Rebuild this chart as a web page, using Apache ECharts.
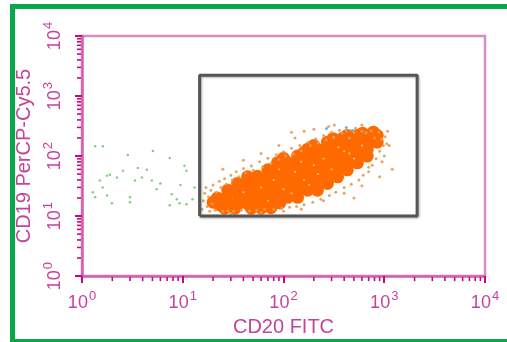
<!DOCTYPE html>
<html><head><meta charset="utf-8">
<script src="https://cdn.jsdelivr.net/npm/echarts@6/dist/echarts.min.js"></script>
<style>html,body{margin:0;padding:0;background:#fff}#c{width:507px;height:342px}</style>
</head><body><div id="c"></div>
<script>
const tickExponents = [0, 1, 2, 3, 4];
const decades = [1, 10, 100, 1000];
const minorMult = [2, 3, 4, 5, 6, 7, 8, 9];
const xTitle = 'CD20 FITC';
const yTitle = 'CD19 PerCP-Cy5.5';

// gate rectangle corners (data units)
const gateCorners = [[14.7, 10], [2120, 10], [2120, 2210], [14.7, 2210], [14.7, 10]];

// dense orange population (core)
const coreCells = [
 [22,20],[23,15.5],[20,17],
 [28,27],[27,20.5],[29,15.7],[26,13.5],
 [35,35],[34,26],[36,20],[35,15.5],[33,13.5],
 [44,45],[43,35],[45,27],[44,20.5],[45,15.7],[48,13.5],
 [55,46],[56,35],[54,27],[55,20],[56,15.5],[60,13.5],
 [70,59],[69,45],[71,35],[70,26.7],[69,20.5],[71,15.7],[75,13.8],
 [87,77],[86,59],[88,45],[87,35],[86,27],[88,20.5],[92,16.5],
 [110,77],[111,59],[109,45],[110,35],[111,27],[110,20.5],[100,92],
 [138,100],[137,77],[139,59],[138,45],[137,35],[139,27],[138,20.5],
 [174,130],[175,100],[173,77],[174,59],[175,45],[173,35],[174,27],[160,115],
 [217,130],[216,100],[218,77],[217,59],[216,45],[218,35],[217,27],[200,150],
 [273,170],[272,130],[274,100],[273,77],[272,59],[274,45],[273,35],
 [343,170],[342,130],[344,100],[343,77],[342,59],[344,45],[310,195],
 [430,221],[431,170],[429,130],[430,100],[431,77],[430,59],[390,200],
 [540,221],[541,170],[539,130],[540,100],[541,77],
 [677,221],[676,170],[678,130],[677,100],[610,240],
 [851,221],[850,170],[780,250]
];

// sparse orange/tan events around the population
const haloCells = [
 [15.5,13],[16,18],[16.5,24],[17,30],[17.5,14.5],[18,21],[18.5,12],[19,27],[19.5,16],[20,33],
 [21,12.5],[21.5,25],[23,38],[24,30],[25,12],[26,42],[27,34],[28,12.3],[30,48],[31,40],
 [32,12],[34,55],[36,45],[38,12.5],[40,62],[42,52],[46,12.3],[48,68],[50,58],[54,12.5],
 [58,80],[62,66],[65,13],[70,92],[75,75],[80,13],[85,105],[90,88],[96,13.5],[100,118],
 [105,100],[115,14],[120,135],[125,108],[135,14.5],[145,150],[150,122],[160,15.5],[175,170],[185,150],
 [195,17],[210,195],[220,165],[235,19],[250,220],[265,185],[285,22],[300,250],[315,205],[330,25],
 [360,270],[380,240],[400,30],[420,265],[450,200],[470,34],[500,250],[520,290],[560,40],[600,260],
 [620,48],[660,245],[700,55],[740,265],[760,70],[800,200],[830,90],[880,250],[900,120],[940,190],
 [980,150],[1020,210],[1060,160],[1120,150],[1000,100],[950,80],[700,65],[1080,260],
 [60,110],[90,150],[130,200],[200,280],[280,310],[160,260],[40,85],[25,60],[320,330],[600,330],[120,250],
 [30,11],[60,11.5],[100,12],[150,13],[250,18],[400,24],[600,32],[900,45],[1200,60],[500,20]
];

// light speckles inside the dense population
const speckleCells = [
 [40,25],[60,30],[80,40],[100,28],[130,55],[160,40],[200,70],[250,90],[300,60],[400,120],
 [500,90],[600,150],[150,80],[90,60],[220,50],[350,140],[450,110],[70,18],[120,24],[180,33]
];

// a few blue events
const blueCells = [[267,288],[482,268],[420,300]];

// green (negative) events
const greenCells = [
 [1.35,146],[1.61,146],[2.85,104],[5.05,121],[7.43,93],[3.58,63],[4.4,59],[2.55,57],[1.89,49],[1.77,47],
 [2.22,44],[1.5,39],[3.35,39],[3.93,44],[4.93,39],[10.4,69],[10.9,57],[1.28,25],[1.35,20.5],[1.77,22],
 [2.99,20.5],[2.99,17],[1.98,16.3],[7.78,23],[8.73,19],[9.3,16.3],[10.9,15.7],[7.43,15.1],[12.5,19],[13.1,30],
 [1.6,30],[6,35],[5.5,28],[9.5,33]
];

const PINK = '#c4449c';
const TICK = '#c8087a';
const FONT = 'Liberation Sans';

const minorValues = [];
decades.forEach(d => minorMult.forEach(m => minorValues.push(d * m)));

function lbl(v) {
  const e = Math.round(Math.log10(v));
  if (tickExponents.indexOf(e) < 0) return '';
  return '{b|10}{s|' + e + '}';
}
const rich = {
  b: { fontSize: 18, color: PINK, fontFamily: FONT, padding: [6, 0, 0, 0] },
  s: { fontSize: 13, color: PINK, fontFamily: FONT, padding: [0, 0, 7, 1] }
};

const chart = echarts.init(document.getElementById('c'));
chart.setOption({
  animation: false,
  backgroundColor: '#fff',
  grid: { left: 82, top: 36, right: 22, bottom: 62, show: true, borderColor: '#d88cc4', borderWidth: 2.5, backgroundColor: 'transparent' },
  xAxis: {
    type: 'log', logBase: 10, min: 1, max: 10000,
    name: xTitle, nameLocation: 'middle', nameGap: 37,
    nameTextStyle: { color: PINK, fontSize: 20, fontFamily: FONT },
    axisLine: { show: true, lineStyle: { color: '#d65fae', width: 2.5 } },
    axisTick: { show: true, length: 7, lineStyle: { color: TICK, width: 2 } },
    axisLabel: { margin: 12, formatter: lbl, rich: rich },
    splitLine: { show: false }
  },
  yAxis: {
    type: 'log', logBase: 10, min: 1, max: 10000,
    name: yTitle, nameLocation: 'middle', nameGap: 43,
    nameTextStyle: { color: PINK, fontSize: 20, fontFamily: FONT },
    axisLine: { show: true, lineStyle: { color: '#d65fae', width: 2.5 } },
    axisTick: { show: true, length: 7, lineStyle: { color: TICK, width: 2 } },
    axisLabel: { margin: 18, rotate: 90, formatter: lbl, rich: rich },
    splitLine: { show: false }
  },
  graphic: [
    { type: 'line', shape: { x1: 10, y1: 6.5, x2: 507, y2: 6.5 }, style: { stroke: '#08a84a', lineWidth: 5 }, silent: true, z: -1 },
    { type: 'line', shape: { x1: 12.5, y1: 4, x2: 12.5, y2: 342 }, style: { stroke: '#08a84a', lineWidth: 5 }, silent: true, z: -1 },
    { type: 'line', shape: { x1: 10, y1: 341, x2: 507, y2: 341 }, style: { stroke: '#08a84a', lineWidth: 4 }, silent: true, z: -1 }
  ],
  series: [
    {
      type: 'custom', clip: false, silent: true,
      data: minorValues.map(v => [v, 1]),
      renderItem: function (params, api) {
        const p = api.coord([api.value(0), 1]);
        return { type: 'line', shape: { x1: p[0], y1: p[1] + 1, x2: p[0], y2: p[1] + 5 }, style: { stroke: TICK, lineWidth: 1.6 } };
      }
    },
    {
      type: 'custom', clip: false, silent: true,
      data: minorValues.map(v => [1, v]),
      renderItem: function (params, api) {
        const p = api.coord([1, api.value(1)]);
        return { type: 'line', shape: { x1: p[0] - 1, y1: p[1], x2: p[0] - 5, y2: p[1] }, style: { stroke: TICK, lineWidth: 1.6 } };
      }
    },
    { type: 'scatter', data: greenCells, symbolSize: 2.5, itemStyle: { color: '#7fcf7f', opacity: 1 }, silent: true },
    { type: 'scatter', data: coreCells, symbolSize: 13, itemStyle: { color: '#ff6a00', opacity: 1 }, silent: true },
    { type: 'scatter', data: haloCells, symbolSize: 3, itemStyle: { color: '#e39c58', opacity: 0.9 }, silent: true },
    { type: 'scatter', data: speckleCells, symbolSize: 2, itemStyle: { color: '#f3c38e', opacity: 1 }, silent: true },
    { type: 'scatter', data: blueCells, symbolSize: 3, itemStyle: { color: '#6ab4e0', opacity: 1 }, silent: true },
    {
      type: 'line', data: gateCorners, symbol: 'none', silent: true,
      lineStyle: { color: '#555', width: 3, shadowColor: 'rgba(0,0,0,0.3)', shadowBlur: 2, shadowOffsetX: 1, shadowOffsetY: 1 }
    }
  ]
});
</script></body></html>
